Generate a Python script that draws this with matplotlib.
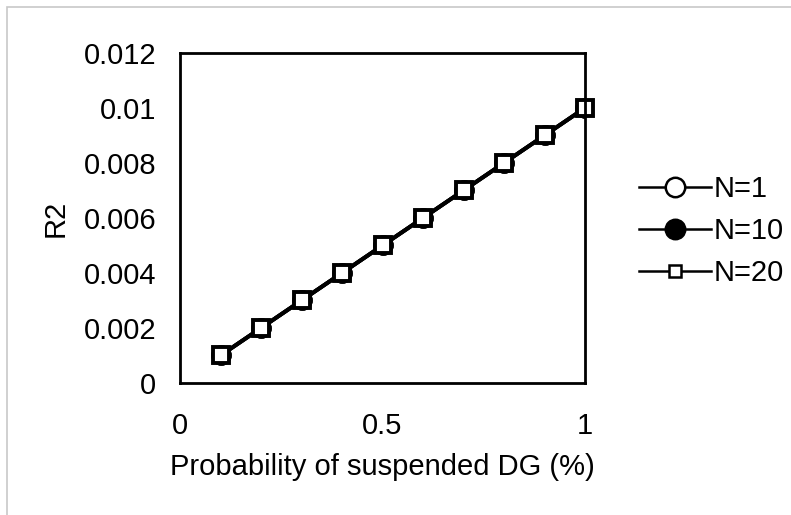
import matplotlib.pyplot as plt
from matplotlib.lines import Line2D
from matplotlib.patches import Rectangle

plt.rcParams["font.family"] = ["Liberation Sans", "DejaVu Sans"]

# Probability of suspended DG (%)
prob = [0.1, 0.2, 0.3, 0.4, 0.5, 0.6, 0.7, 0.8, 0.9, 1.0]
# R2 for each N (curves overlap)
r2_n1 = [0.001, 0.002, 0.003, 0.004, 0.005, 0.006, 0.007, 0.008, 0.009, 0.010]
r2_n10 = [0.001, 0.002, 0.003, 0.004, 0.005, 0.006, 0.007, 0.008, 0.009, 0.010]
r2_n20 = [0.001, 0.002, 0.003, 0.004, 0.005, 0.006, 0.007, 0.008, 0.009, 0.010]
labels = ["N=1", "N=10", "N=20"]

fig = plt.figure(figsize=(7.91, 5.15), dpi=100)
fig.patches.append(Rectangle((0.009, -0.01), 1.0, 0.997, transform=fig.transFigure,
                             fill=False, edgecolor="#c8c8c8", linewidth=1.2))
ax = fig.add_axes([0.2276, 0.2563, 0.512, 0.641])

ax.plot(prob, r2_n1, color="black", lw=2.8, marker="o", ms=12,
        mfc="white", mec="black", mew=2.8, label=labels[0])
ax.plot(prob, r2_n10, color="black", lw=2.8, marker="o", ms=12,
        mfc="white", mec="black", mew=2.8, label=labels[1])
ax.plot(prob, r2_n20, color="black", lw=2.8, marker="s", ms=11,
        mfc="white", mec="black", mew=2.8, label=labels[2], clip_on=False)

ax.set_xlim(0, 1)
ax.set_ylim(0, 0.012)
ax.set_xticks([0, 0.5, 1])
ax.set_xticklabels(["0", "0.5", "1"])
ax.set_yticks([0, 0.002, 0.004, 0.006, 0.008, 0.01, 0.012])
ax.set_yticklabels(["0", "0.002", "0.004", "0.006", "0.008", "0.01", "0.012"])
ax.tick_params(axis="y", length=0, labelsize=21, pad=17)
ax.tick_params(axis="x", length=0, labelsize=21, pad=21)
for s in ax.spines.values():
    s.set_linewidth(2.0)

ax.set_xlabel("Probability of suspended DG (%)", fontsize=21, labelpad=9)
ax.set_ylabel("R2", fontsize=21, labelpad=10)

handles = [
    Line2D([], [], color="black", lw=1.8, marker="o", ms=14, mfc="white", mec="black", mew=1.8),
    Line2D([], [], color="black", lw=1.8, marker="o", ms=14, mfc="black", mec="black", mew=1.8),
    Line2D([], [], color="black", lw=1.8, marker="s", ms=9, mfc="white", mec="black", mew=1.8),
]
fig.legend(handles, labels, loc="center left", bbox_to_anchor=(0.808, 0.552),
           frameon=False, fontsize=21, handlelength=2.45, handletextpad=0.12,
           labelspacing=0.48, borderpad=0, borderaxespad=0)

fig.savefig("out.png", dpi=100)
